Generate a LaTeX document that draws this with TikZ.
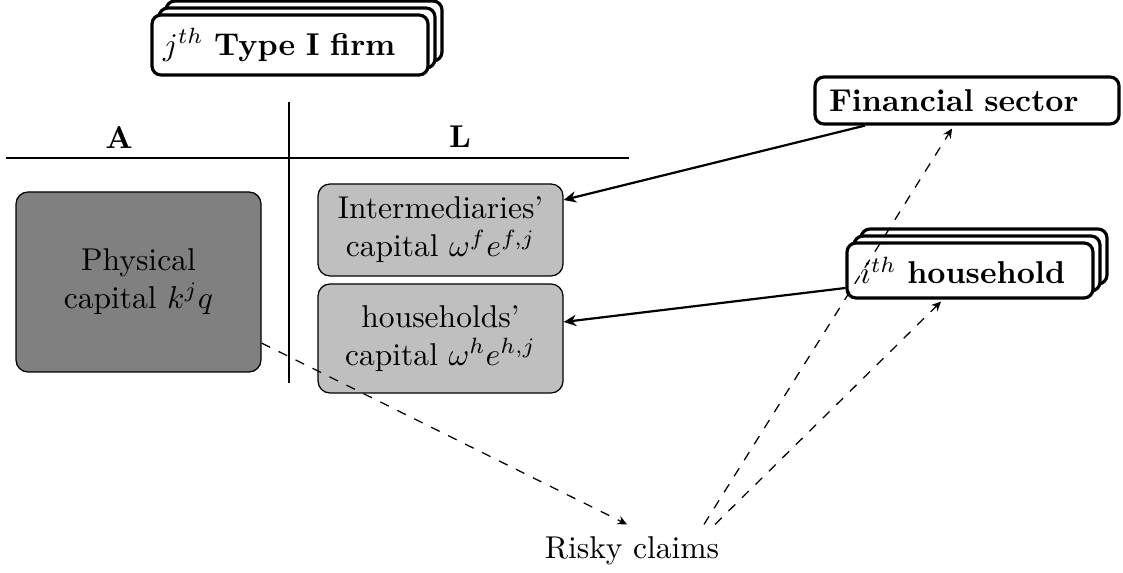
\documentclass[tikz,border=0pt]{standalone}
\usetikzlibrary{arrows.meta,calc}
\newdimen\pxu
\pxu=0.317pt
\begin{document}
\begin{tikzpicture}[x=\pxu,y=-\pxu,
  stackbox/.style={draw, line width=1pt, rounded corners=9\pxu, fill=white, align=left, inner ysep=0pt},
  firmbox/.style={stackbox, inner xsep=11\pxu, text width=254\pxu, minimum height=60\pxu},
  finbox/.style={stackbox, inner xsep=14\pxu, text width=276\pxu, minimum height=47\pxu},
  hhbox/.style={stackbox, inner xsep=13\pxu, text width=220\pxu, minimum height=55\pxu},
  graybox/.style={draw, line width=0.4pt, rounded corners=12\pxu, align=center, inner sep=0pt, minimum width=245\pxu},
  tline/.style={line width=0.7pt},
  solidarrow/.style={line width=0.7pt, -{Stealth[length=4pt,width=3.6pt]}},
  dasharrow/.style={dashed, line width=0.4pt, -{Stealth[length=3pt,width=2.8pt]}}
]
\useasboundingbox (0,0) rectangle (1123,573);

% Type I firm stack
\node[firmbox] (firmC) at (304,31) {};
\node[firmbox] (firmB) at (297,38) {};
\node[firmbox] (firm) at (290,45) {$j^{th}$ \textbf{Type I firm}};

% T-account
\coordinate (hl) at (6,158);
\coordinate (hr) at (629,158);
\coordinate (vt) at (289,102);
\coordinate (vb) at (289,383);
\draw[tline] (hl) -- (hr);
\draw[tline] (vt) -- (vb);
\node[font=\bfseries] (A) at (119,137) {A};
\node[font=\bfseries] (L) at (460,137) {L};

% balance sheet items
\node[graybox, fill=black!50, minimum height=180\pxu] (phys) at (138.5,282) {Physical\\capital $k^jq$};
\node[graybox, fill=black!25, minimum height=92\pxu] (inter) at (440.5,230) {Intermediaries'\\capital $\omega^f e^{f,j}$};
\node[graybox, fill=black!25, minimum height=109\pxu] (hcap) at (440.5,338.5) {households'\\capital $\omega^h e^{h,j}$};

% Financial sector
\node[finbox] (fin) at (967,100.5) {\textbf{Financial sector}};

% household stack
\node[hhbox] (hhC) at (984,256.5) {};
\node[hhbox] (hhB) at (977,263.5) {};
\node[hhbox] (hh) at (970,270.5) {$i^{th}$ \textbf{household}};

% Risky claims
\node[inner sep=0pt, minimum height=52\pxu] (risky) at (632,551) {Risky claims};

% solid arrows
\draw[solidarrow] ([xshift=-102\pxu]fin.south) -- ([yshift=30\pxu]inter.east);
\draw[solidarrow] ([yshift=-17.5\pxu]hh.west) -- ([yshift=16.5\pxu]hcap.east);

% dashed arrows
\draw[dasharrow] (phys) -- ([xshift=-5\pxu]risky.north);
\draw[dasharrow] ([xshift=72\pxu]risky.north) -- ([xshift=-15\pxu,yshift=-3\pxu]fin.south);
\draw[dasharrow] ([xshift=83\pxu]risky.north) -- ([xshift=-29\pxu,yshift=-2\pxu]hh.south);
\end{tikzpicture}
\end{document}
